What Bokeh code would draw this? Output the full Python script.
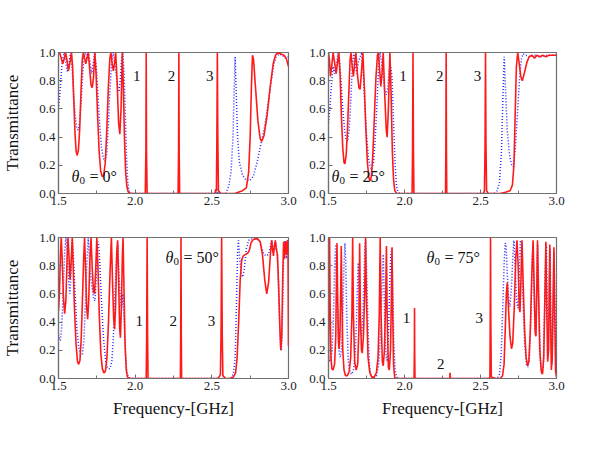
from bokeh.plotting import figure
from bokeh.layouts import column, row
from bokeh.models import FixedTicker, Label, NumeralTickFormatter
from bokeh.embed import file_html
from bokeh.resources import INLINE

# ---------------- data ----------------
x_ticks = [1.5, 2.0, 2.5, 3.0]
x_minor = [1.75, 2.25, 2.75]
y_ticks = [0.0, 0.2, 0.4, 0.6, 0.8, 1.0]

# theta = 0
tl_red_x = [1.500, 1.510, 1.520, 1.528, 1.536, 1.546, 1.555, 1.565, 1.575, 1.585, 1.592, 1.600, 1.608, 1.615, 1.622,
            1.630, 1.638, 1.646, 1.655, 1.662, 1.670, 1.678, 1.686, 1.694, 1.702, 1.712, 1.720, 1.728, 1.737, 1.745,
            1.755, 1.765, 1.775, 1.785, 1.795, 1.805, 1.815, 1.825, 1.835, 1.842, 1.850, 1.858, 1.866, 1.873, 1.882,
            1.892, 1.900, 1.908, 1.916, 1.922, 1.930, 1.938, 1.946, 1.955, 1.970, 2.066, 2.070, 2.072, 2.074, 2.078,
            2.280, 2.283, 2.285, 2.287, 2.290, 2.520, 2.526, 2.530, 2.533, 2.536, 2.539, 2.543, 2.560, 2.650, 2.700,
            2.725, 2.740, 2.750, 2.758, 2.765, 2.772, 2.785, 2.800, 2.815, 2.825, 2.840, 2.860, 2.880, 2.900, 2.915,
            2.930, 2.950, 2.970, 2.985, 3.000]
tl_red_y = [1.00, 0.99, 0.95, 0.92, 0.95, 1.00, 0.95, 0.87, 0.93, 1.00, 0.90, 0.65, 0.42, 0.30, 0.27,
            0.31, 0.45, 0.70, 0.95, 1.00, 0.96, 0.92, 0.96, 1.00, 0.90, 0.77, 0.75, 0.82, 1.00, 0.85,
            0.55, 0.30, 0.16, 0.12, 0.13, 0.22, 0.45, 0.75, 0.96, 1.00, 0.92, 0.87, 0.93, 1.00, 0.80,
            0.50, 0.42, 0.60, 1.00, 0.80, 0.40, 0.15, 0.05, 0.01, 0.00, 0.00, 0.30, 1.00, 0.30, 0.00,
            0.00, 0.30, 1.00, 0.30, 0.00, 0.00, 0.03, 0.02, 0.40, 1.00, 0.40, 0.02, 0.00, 0.00, 0.02,
            0.04, 0.15, 0.40, 0.75, 0.98, 0.95, 0.75, 0.52, 0.39, 0.37, 0.41, 0.55, 0.75, 0.92, 0.98,
            1.00, 0.99, 0.98, 0.96, 0.90]
tl_blue_x = [1.500, 1.510, 1.520, 1.530, 1.538, 1.548, 1.558, 1.568, 1.578, 1.588, 1.598, 1.608, 1.618, 1.628, 1.638,
             1.648, 1.658, 1.668, 1.676, 1.686, 1.696, 1.706, 1.716, 1.726, 1.736, 1.746, 1.756, 1.768, 1.780, 1.792,
             1.804, 1.814, 1.824, 1.834, 1.846, 1.856, 1.866, 1.876, 1.886, 1.894, 1.902, 1.912, 1.920, 1.928, 1.936,
             1.944, 1.952, 1.962, 1.975, 2.530, 2.536, 2.542, 2.590, 2.610, 2.625, 2.638, 2.646, 2.652, 2.658, 2.668,
             2.680, 2.700, 2.720, 2.745, 2.770, 2.795, 2.820, 2.845, 2.865, 2.885, 2.905, 2.920, 2.940, 2.960, 2.980,
             3.000]
tl_blue_y = [0.60, 0.72, 0.88, 0.97, 1.00, 0.93, 0.86, 0.92, 1.00, 0.90, 0.72, 0.56, 0.47, 0.45, 0.50,
             0.65, 0.85, 0.98, 1.00, 0.96, 1.00, 0.93, 0.85, 0.92, 1.00, 0.90, 0.72, 0.50, 0.33, 0.25,
             0.23, 0.28, 0.45, 0.70, 0.92, 1.00, 0.93, 0.85, 0.75, 0.72, 0.80, 0.96, 1.00, 0.85, 0.55,
             0.25, 0.08, 0.01, 0.00, 0.00, 0.03, 0.00, 0.00, 0.05, 0.15, 0.40, 0.75, 0.97, 0.75, 0.40,
             0.22, 0.13, 0.10, 0.09, 0.12, 0.22, 0.35, 0.48, 0.62, 0.78, 0.92, 0.97, 0.99, 0.98, 0.96,
             0.97]

# theta = 25
tr_red_x = [1.500, 1.506, 1.513, 1.521, 1.530, 1.540, 1.550, 1.560, 1.568, 1.576, 1.585, 1.594, 1.602, 1.608, 1.616,
            1.625, 1.634, 1.642, 1.648, 1.656, 1.664, 1.672, 1.680, 1.690, 1.700, 1.708, 1.716, 1.726, 1.736, 1.746,
            1.756, 1.766, 1.774, 1.782, 1.792, 1.802, 1.812, 1.822, 1.828, 1.836, 1.844, 1.852, 1.860, 1.870, 1.880,
            1.886, 1.894, 1.904, 1.912, 1.920, 1.928, 1.936, 1.950, 2.050, 2.053, 2.056, 2.059, 2.062, 2.270, 2.272,
            2.274, 2.276, 2.278, 2.520, 2.526, 2.530, 2.533, 2.536, 2.540, 2.550, 2.630, 2.670, 2.695, 2.710, 2.720,
            2.728, 2.736, 2.745, 2.755, 2.765, 2.775, 2.790, 2.805, 2.820, 2.840, 2.855, 2.870, 2.890, 2.910, 2.930,
            2.950, 2.970, 3.000]
tr_red_y = [1.00, 0.95, 0.83, 0.90, 1.00, 0.93, 0.85, 0.93, 1.00, 0.85, 0.55, 0.32, 0.22, 0.21, 0.27,
            0.45, 0.72, 0.95, 1.00, 0.90, 0.83, 0.92, 1.00, 0.85, 0.75, 0.74, 0.85, 1.00, 0.75, 0.45,
            0.22, 0.11, 0.09, 0.12, 0.28, 0.55, 0.82, 0.98, 1.00, 0.88, 0.76, 0.85, 1.00, 0.70, 0.45,
            0.40, 0.60, 1.00, 0.70, 0.30, 0.10, 0.02, 0.00, 0.00, 0.30, 1.00, 0.30, 0.00, 0.00, 0.30,
            1.00, 0.30, 0.00, 0.00, 0.02, 0.35, 1.00, 0.35, 0.02, 0.00, 0.00, 0.01, 0.02, 0.06, 0.20,
            0.55, 0.90, 1.00, 0.92, 0.83, 0.80, 0.86, 0.93, 0.97, 0.98, 0.96, 0.98, 0.97, 0.98, 0.97,
            0.98, 0.98, 0.98]
tr_blue_x = [1.500, 1.510, 1.520, 1.530, 1.540, 1.550, 1.562, 1.572, 1.582, 1.594, 1.606, 1.616, 1.626, 1.636, 1.646,
             1.656, 1.666, 1.676, 1.686, 1.696, 1.718, 1.728, 1.738, 1.750, 1.762, 1.774, 1.784, 1.796, 1.808, 1.820,
             1.830, 1.840, 1.850, 1.860, 1.870, 1.880, 1.890, 1.900, 1.910, 1.918, 1.928, 1.938, 1.948, 1.958, 1.970,
             2.590, 2.610, 2.625, 2.638, 2.648, 2.656, 2.664, 2.676, 2.690, 2.705, 2.715, 2.728, 2.742, 2.756, 2.768,
             2.780, 2.800, 2.830, 2.860, 2.900, 2.940, 2.970, 3.000]
tr_blue_y = [0.50, 0.62, 0.78, 0.90, 0.85, 0.90, 1.00, 0.95, 0.80, 0.60, 0.45, 0.38, 0.37, 0.45, 0.65,
             0.88, 1.00, 0.92, 0.85, 0.93, 1.00, 0.88, 0.65, 0.42, 0.26, 0.19, 0.17, 0.22, 0.40, 0.66,
             0.90, 1.00, 0.92, 0.82, 0.73, 0.70, 0.75, 0.88, 0.90, 0.82, 0.50, 0.20, 0.05, 0.01, 0.00,
             0.00, 0.02, 0.08, 0.30, 0.70, 0.97, 0.75, 0.45, 0.28, 0.20, 0.19, 0.30, 0.55, 0.80, 0.95,
             0.99, 0.98, 0.97, 0.98, 0.97, 0.98, 0.98, 0.98]

# theta = 50
bl_red_x = [1.500, 1.506, 1.512, 1.518, 1.524, 1.532, 1.540, 1.548, 1.556, 1.562, 1.568, 1.575, 1.582, 1.590, 1.596,
            1.604, 1.614, 1.624, 1.632, 1.640, 1.648, 1.656, 1.664, 1.670, 1.676, 1.684, 1.690, 1.697, 1.705, 1.712,
            1.720, 1.728, 1.735, 1.742, 1.750, 1.757, 1.766, 1.776, 1.786, 1.796, 1.806, 1.816, 1.826, 1.836, 1.845,
            1.852, 1.860, 1.866, 1.872, 1.880, 1.886, 1.892, 1.899, 1.904, 1.910, 1.916, 1.921, 1.926, 1.934, 1.942,
            1.950, 1.965, 2.072, 2.075, 2.078, 2.081, 2.084, 2.295, 2.297, 2.299, 2.301, 2.303, 2.540, 2.552, 2.556,
            2.560, 2.564, 2.568, 2.572, 2.590, 2.620, 2.640, 2.655, 2.665, 2.675, 2.685, 2.695, 2.705, 2.720, 2.735,
            2.745, 2.755, 2.765, 2.780, 2.800, 2.815, 2.830, 2.845, 2.858, 2.870, 2.882, 2.890, 2.896, 2.902, 2.908,
            2.914, 2.920, 2.928, 2.936, 2.944, 2.950, 2.956, 2.962, 2.968, 2.974, 2.980, 2.986, 2.992, 2.997, 3.000]
bl_red_y = [0.48, 0.60, 0.85, 1.00, 0.85, 0.58, 0.46, 0.55, 0.85, 1.00, 0.88, 0.70, 0.82, 1.00, 0.80,
            0.50, 0.25, 0.12, 0.10, 0.13, 0.28, 0.55, 0.85, 1.00, 0.80, 0.50, 0.42, 0.55, 0.85, 1.00,
            0.78, 0.62, 0.60, 0.75, 1.00, 0.80, 0.45, 0.18, 0.07, 0.04, 0.05, 0.15, 0.40, 0.75, 1.00,
            0.70, 0.42, 0.35, 0.50, 0.90, 0.98, 0.70, 0.35, 0.29, 0.50, 0.85, 1.00, 0.70, 0.25, 0.06,
            0.01, 0.00, 0.00, 0.30, 1.00, 0.30, 0.00, 0.00, 0.30, 1.00, 0.30, 0.00, 0.00, 0.02, 0.03,
            0.30, 1.00, 0.30, 0.02, 0.00, 0.00, 0.01, 0.04, 0.15, 0.40, 0.70, 0.84, 0.87, 0.88, 0.89,
            0.91, 0.96, 0.98, 0.99, 0.99, 0.97, 0.88, 0.70, 0.60, 0.68, 0.88, 0.98, 0.92, 0.87, 0.94,
            0.98, 0.92, 0.88, 0.65, 0.35, 0.20, 0.30, 0.70, 0.97, 0.85, 0.97, 0.88, 0.98, 0.90, 0.23]
bl_blue_x = [1.500, 1.506, 1.512, 1.520, 1.530, 1.540, 1.548, 1.556, 1.566, 1.574, 1.582, 1.590, 1.598, 1.608, 1.620,
             1.632, 1.644, 1.656, 1.666, 1.676, 1.686, 1.694, 1.702, 1.712, 1.722, 1.730, 1.738, 1.746, 1.754, 1.760,
             1.768, 1.780, 1.794, 1.808, 1.822, 1.836, 1.848, 1.858, 1.868, 1.878, 1.886, 1.894, 1.904, 1.912, 1.920,
             1.928, 1.936, 1.946, 1.956, 1.970, 2.620, 2.640, 2.652, 2.660, 2.668, 2.674, 2.682, 2.692, 2.702, 2.712,
             2.725, 2.740, 2.760, 2.790, 2.810, 2.825, 2.840, 2.855, 2.870, 2.885, 2.892, 2.900, 2.912, 2.920, 2.930,
             2.940, 2.948, 2.954, 2.962, 2.970, 2.978, 2.986, 2.994, 3.000]
bl_blue_y = [0.31, 0.28, 0.27, 0.35, 0.60, 0.88, 1.00, 0.90, 0.70, 0.60, 0.75, 0.98, 0.85, 0.60, 0.35,
             0.22, 0.17, 0.17, 0.28, 0.55, 0.85, 1.00, 0.85, 0.70, 0.62, 0.56, 0.55, 0.70, 0.95, 0.97,
             0.85, 0.55, 0.28, 0.12, 0.07, 0.07, 0.12, 0.30, 0.60, 0.85, 0.95, 0.75, 0.55, 0.50, 0.60,
             0.40, 0.18, 0.04, 0.01, 0.00, 0.00, 0.03, 0.15, 0.50, 0.90, 0.98, 0.85, 0.74, 0.72, 0.78,
             0.92, 0.98, 0.99, 0.99, 0.98, 0.93, 0.88, 0.87, 0.88, 0.95, 0.98, 0.90, 0.92, 0.96, 0.80,
             0.45, 0.22, 0.20, 0.50, 0.95, 0.98, 0.85, 0.98, 0.95]

# theta = 75
br_red_x = [1.500, 1.503, 1.507, 1.511, 1.516, 1.522, 1.530, 1.540, 1.548, 1.553, 1.556, 1.560, 1.566, 1.570, 1.575,
            1.580, 1.584, 1.588, 1.594, 1.602, 1.612, 1.624, 1.636, 1.646, 1.654, 1.659, 1.664, 1.672, 1.682, 1.692,
            1.700, 1.705, 1.710, 1.717, 1.722, 1.730, 1.738, 1.744, 1.750, 1.760, 1.772, 1.785, 1.800, 1.815, 1.826,
            1.834, 1.840, 1.846, 1.854, 1.860, 1.868, 1.876, 1.881, 1.886, 1.894, 1.900, 1.908, 1.914, 1.918, 1.922,
            1.928, 1.935, 1.945, 2.063, 2.065, 2.066, 2.067, 2.069, 2.298, 2.300, 2.302, 2.555, 2.562, 2.564, 2.566,
            2.568, 2.571, 2.600, 2.630, 2.645, 2.655, 2.663, 2.670, 2.676, 2.684, 2.694, 2.704, 2.712, 2.722, 2.732,
            2.740, 2.748, 2.755, 2.760, 2.766, 2.773, 2.780, 2.790, 2.800, 2.810, 2.818, 2.828, 2.838, 2.846, 2.853,
            2.860, 2.865, 2.870, 2.875, 2.882, 2.890, 2.900, 2.908, 2.916, 2.924, 2.930, 2.936, 2.942, 2.948, 2.953,
            2.956, 2.960, 2.966, 2.972, 2.978, 2.983, 2.988, 2.994, 3.000]
br_red_y = [0.12, 0.50, 1.00, 0.50, 0.15, 0.07, 0.06, 0.10, 0.30, 0.80, 0.96, 0.60, 0.25, 0.21, 0.30,
            0.60, 0.94, 0.60, 0.20, 0.06, 0.02, 0.02, 0.05, 0.15, 0.45, 1.00, 0.45, 0.12, 0.06, 0.10,
            0.35, 0.96, 0.45, 0.20, 0.18, 0.30, 0.60, 1.00, 0.55, 0.15, 0.04, 0.01, 0.01, 0.04, 0.15,
            0.45, 1.00, 0.45, 0.12, 0.09, 0.20, 0.55, 0.94, 0.45, 0.08, 0.06, 0.20, 0.60, 0.93, 0.50,
            0.10, 0.01, 0.00, 0.00, 0.20, 0.50, 0.20, 0.00, 0.00, 0.04, 0.00, 0.00, 0.01, 0.40, 1.00,
            0.40, 0.01, 0.00, 0.00, 0.02, 0.10, 0.35, 0.60, 0.68, 0.50, 0.30, 0.21, 0.25, 0.50, 0.85,
            0.98, 0.80, 0.50, 0.47, 0.70, 0.98, 0.70, 0.35, 0.15, 0.09, 0.12, 0.35, 0.75, 0.98, 0.65,
            0.32, 0.30, 0.60, 0.98, 0.60, 0.20, 0.05, 0.03, 0.15, 0.60, 0.97, 0.50, 0.12, 0.20, 0.70,
            0.95, 0.50, 0.06, 0.15, 0.60, 0.93, 0.50, 0.05, 0.01]
br_blue_x = [1.500, 1.506, 1.514, 1.522, 1.530, 1.536, 1.542, 1.548, 1.554, 1.562, 1.570, 1.578, 1.586, 1.594, 1.602,
             1.608, 1.613, 1.620, 1.630, 1.642, 1.654, 1.666, 1.676, 1.684, 1.690, 1.696, 1.702, 1.710, 1.718, 1.726,
             1.734, 1.740, 1.745, 1.752, 1.762, 1.768, 1.775, 1.785, 1.800, 1.816, 1.830, 1.842, 1.852, 1.860, 1.866,
             1.872, 1.880, 1.886, 1.894, 1.902, 1.910, 1.918, 1.924, 1.930, 1.938, 1.948, 1.960, 2.610, 2.625, 2.635,
             2.645, 2.655, 2.662, 2.668, 2.676, 2.686, 2.694, 2.704, 2.714, 2.720, 2.728, 2.738, 2.746, 2.754, 2.762,
             2.768, 2.778, 2.790, 2.802, 2.812, 2.822, 2.832, 2.840, 2.846, 2.852, 2.858, 2.866, 2.872, 2.876, 2.884,
             2.894, 2.904, 2.914, 2.922, 2.930, 2.934, 2.940, 2.946, 2.952, 2.958, 2.964, 2.970, 2.978, 2.984, 2.990,
             2.996, 3.000]
br_blue_y = [0.15, 0.13, 0.12, 0.18, 0.35, 0.60, 0.85, 0.95, 0.70, 0.35, 0.18, 0.15, 0.22, 0.45, 0.80,
             0.96, 0.85, 0.45, 0.12, 0.04, 0.03, 0.07, 0.18, 0.40, 0.65, 0.82, 0.55, 0.33, 0.30, 0.45,
             0.75, 0.95, 0.98, 0.70, 0.30, 0.12, 0.04, 0.01, 0.00, 0.02, 0.10, 0.30, 0.65, 0.88, 0.60,
             0.30, 0.15, 0.12, 0.30, 0.65, 0.88, 0.92, 0.60, 0.25, 0.06, 0.01, 0.00, 0.00, 0.03, 0.15,
             0.45, 0.80, 0.96, 0.95, 0.75, 0.55, 0.51, 0.65, 0.90, 0.98, 0.80, 0.55, 0.50, 0.70, 0.98,
             0.95, 0.60, 0.25, 0.10, 0.08, 0.15, 0.45, 0.85, 0.95, 0.60, 0.35, 0.40, 0.85, 0.95, 0.55,
             0.12, 0.03, 0.10, 0.50, 0.90, 0.95, 0.40, 0.22, 0.60, 0.92, 0.40, 0.10, 0.40, 0.90, 0.50,
             0.10, 0.05]

angles = ["0", "25", "50", "75"]
peak_labels = ["1", "2", "3"]

# ---------------- styling ----------------
SERIF = "Liberation Serif"
FRAME = "#707070"
RED = "#ff1a1a"
BLUE = "#2a2aff"


def panel(rx, ry, bx, by, bl, br, bt, bb, fw, ylab, xlab, num_pos, theta_pos, angle):
    p = figure(frame_width=fw, frame_height=141, x_range=(1.5, 3.0), y_range=(0.0, 1.0),
               output_backend="svg", toolbar_location=None,
               min_border_left=bl, min_border_right=br, min_border_top=bt, min_border_bottom=bb)
    p.grid.visible = False
    p.outline_line_color = FRAME
    p.outline_line_width = 1.2
    p.background_fill_color = "white"
    p.border_fill_color = "white"
    p.line(bx, by, line_color=BLUE, line_width=1.5, line_dash="1 2")
    p.line(rx, ry, line_color=RED, line_width=1.6)

    p.xaxis.ticker = FixedTicker(ticks=x_ticks, minor_ticks=x_minor)
    p.yaxis.ticker = FixedTicker(ticks=y_ticks, minor_ticks=[])
    p.xaxis.formatter = NumeralTickFormatter(format="0.0")
    p.yaxis.formatter = NumeralTickFormatter(format="0.0")
    for ax in (p.xaxis[0], p.yaxis[0]):
        ax.axis_line_color = FRAME
        ax.axis_line_width = 1.2
        ax.major_tick_line_color = FRAME
        ax.minor_tick_line_color = FRAME
        ax.major_tick_in = 4
        ax.major_tick_out = 0
        ax.minor_tick_in = 3
        ax.minor_tick_out = 0
        ax.major_label_text_font = SERIF
        ax.major_label_text_font_size = "13px"
        ax.major_label_text_color = "#222222"
        ax.major_label_standoff = 3
        ax.axis_label_text_font = SERIF
        ax.axis_label_text_font_style = "normal"
        ax.axis_label_text_font_size = "17px"
        ax.axis_label_text_color = "#111111"
    if ylab:
        p.yaxis.axis_label = "Transmittance"
        p.yaxis.axis_label_standoff = 14
    if xlab:
        p.xaxis.axis_label = "Frequency-[GHz]"
        p.xaxis.axis_label_standoff = 6

    for (x, y), t in zip(num_pos, peak_labels):
        p.add_layout(Label(x=x, y=y, text=t, text_font=SERIF, text_font_size="15px",
                           text_color="#111111", text_baseline="middle", text_align="center"))
    tx, ty = theta_pos
    p.add_layout(Label(x=tx, y=ty, text="θ", text_font=SERIF, text_font_style="italic",
                       text_font_size="16px", text_color="#111111", text_baseline="middle"))
    p.add_layout(Label(x=tx, y=ty, x_offset=8, y_offset=-4, text="0", text_font=SERIF,
                       text_font_size="11px", text_color="#111111", text_baseline="middle"))
    p.add_layout(Label(x=tx, y=ty, x_offset=18, text="= " + angle + "°", text_font=SERIF,
                       text_font_size="16px", text_color="#111111", text_baseline="middle"))
    return p


p_tl = panel(tl_red_x, tl_red_y, tl_blue_x, tl_blue_y, 57, 10, 52, 24, 230, True, False,
             [(2.01, 0.83), (2.237, 0.83), (2.487, 0.83)], (1.585, 0.12), angles[0])
p_tr = panel(tr_red_x, tr_red_y, tr_blue_x, tr_blue_y, 30, 12, 52, 24, 228, False, False,
             [(1.99, 0.83), (2.232, 0.83), (2.48, 0.83)], (1.52, 0.12), angles[1])
p_bl = panel(bl_red_x, bl_red_y, bl_blue_x, bl_blue_y, 57, 10, 20, 46, 230, True, True,
             [(2.026, 0.41), (2.248, 0.41), (2.498, 0.41)], (2.198, 0.86), angles[2])
p_br = panel(br_red_x, br_red_y, br_blue_x, br_blue_y, 30, 12, 20, 46, 228, False, True,
             [(2.013, 0.43), (2.239, 0.10), (2.491, 0.43)], (2.145, 0.86), angles[3])

layout = column(row(p_tl, p_tr), row(p_bl, p_br))

open("out.html", "w").write(file_html(layout, INLINE))
